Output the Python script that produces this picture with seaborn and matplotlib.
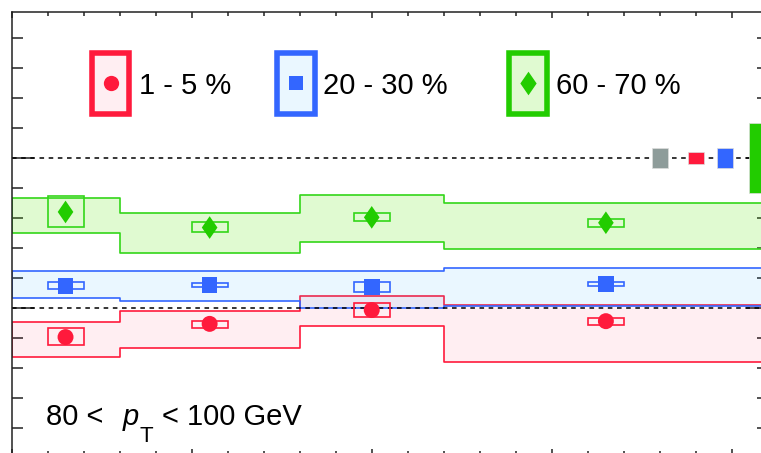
import numpy as np
import pandas as pd
import matplotlib
matplotlib.use("Agg")
import matplotlib.pyplot as plt
from matplotlib.patches import Rectangle
from matplotlib.ticker import MultipleLocator
from matplotlib.transforms import offset_copy
import seaborn as sns

sns.set_style("ticks")
plt.rcParams['font.family'] = ['Liberation Sans', 'DejaVu Sans']
plt.rcParams['text.color'] = 'black'

# |y| bins and centres
rap_edges = [0.0, 0.3, 0.8, 1.2, 2.1]
rap_centres = [0.15, 0.55, 1.0, 1.65]
cent_labels = ['1 - 5 %', '20 - 30 %', '60 - 70 %']

# R_CP values
rcp_c1 = [0.403, 0.447, 0.493, 0.456]
rcp_c2 = [0.574, 0.577, 0.571, 0.579]
rcp_c3 = [0.820, 0.768, 0.802, 0.784]

# shaded systematic bands (low / high per bin)
band_lo_c1 = [0.337, 0.367, 0.441, 0.319]
band_hi_c1 = [0.454, 0.489, 0.541, 0.510]
band_lo_c2 = [0.532, 0.523, 0.501, 0.508]
band_hi_c2 = [0.623, 0.623, 0.624, 0.632]
band_lo_c3 = [0.751, 0.682, 0.719, 0.696]
band_hi_c3 = [0.866, 0.818, 0.877, 0.849]

# open boxes around the points
box_lo_c1 = [0.378, 0.434, 0.471, 0.443]
box_hi_c1 = [0.433, 0.458, 0.516, 0.468]
box_lo_c2 = [0.562, 0.569, 0.552, 0.573]
box_hi_c2 = [0.586, 0.584, 0.586, 0.586]
box_lo_c3 = [0.771, 0.752, 0.791, 0.771]
box_hi_c3 = [0.873, 0.788, 0.816, 0.796]

# normalisation uncertainties at unity
norm_x = [1.80, 1.90, 1.98, 2.07]
norm_unc = [0.032, 0.020, 0.032, 0.118]
norm_colors = ['#8E9C9A', '#FF1A3C', '#3366FF', '#22CC00']

line_colors = ['#FF1A3C', '#3366FF', '#22CC00']
band_colors = ['#FF1A3C', '#3366FF', '#33D619']
fill_colors = [(1.0, 0.1, 0.3, 0.07), (0.2, 0.7, 1.0, 0.1), (0.4, 0.9, 0.1, 0.2)]
diamond = [(0, 1), (0.69, 0), (0, -1), (-0.69, 0), (0, 1)]

band_lo = [band_lo_c1, band_lo_c2, band_lo_c3]
band_hi = [band_hi_c1, band_hi_c2, band_hi_c3]
box_lo = [box_lo_c1, box_lo_c2, box_lo_c3]
box_hi = [box_hi_c1, box_hi_c2, box_hi_c3]

df = pd.DataFrame({
    "rap": rap_centres * 3,
    "rcp": rcp_c1 + rcp_c2 + rcp_c3,
    "cent": [c for c in cent_labels for _ in rap_centres],
})

fig = plt.figure(figsize=(7.61, 4.53), dpi=100)
ax = fig.add_axes([11.5/761, -2/453, 756.5/761, 443.5/453])

for i in range(3):
    lo = list(band_lo[i]) + [band_lo[i][-1]]
    hi = list(band_hi[i]) + [band_hi[i][-1]]
    ax.fill_between(rap_edges, lo, hi, step='post', facecolor=fill_colors[i],
                    edgecolor=band_colors[i], linewidth=1.2, zorder=1)
    ax.bar(rap_centres, np.array(box_hi[i]) - np.array(box_lo[i]), bottom=box_lo[i],
           width=0.1, fill=False, edgecolor=band_colors[i], linewidth=1.2, zorder=3)

ax.axhline(1.0, ls=(0, (3, 3)), lw=1.1, color='k', zorder=2)
ax.axhline(0.5, ls=(0, (3, 3)), lw=1.1, color='k', zorder=2)

ax.bar(norm_x, 2*np.array(norm_unc), bottom=1-np.array(norm_unc), width=0.045,
       color=norm_colors, edgecolor='#DDDDDD', linewidth=0.5, zorder=3)

sns.scatterplot(data=df, x="rap", y="rcp", hue="cent", style="cent", size="cent",
                palette=dict(zip(cent_labels, line_colors)),
                markers=dict(zip(cent_labels, ['o', 's', diamond])),
                sizes=dict(zip(cent_labels, [132, 128, 266])),
                linewidth=0, legend=False, zorder=4, ax=ax)

ax.set_xlim(0, 2.1)
ax.set_ylim(0.01, 1.488)
ax.set_xlabel("")
ax.set_ylabel("")
ax.xaxis.set_major_locator(MultipleLocator(0.5))
ax.xaxis.set_minor_locator(MultipleLocator(0.1))
ax.yaxis.set_major_locator(MultipleLocator(0.5))
ax.yaxis.set_minor_locator(MultipleLocator(0.1))
ax.tick_params(axis='both', which='both', direction='in', top=True, right=True,
               labelbottom=False, labelleft=False, width=1.1, color='#222222')
ax.tick_params(axis='y', which='major', length=15.8)
ax.tick_params(axis='y', which='minor', length=7.9)
ax.tick_params(axis='x', which='major', length=4.5)
ax.tick_params(axis='x', which='minor', length=2.7)
for sp in ax.spines.values():
    sp.set_linewidth(1.1)
    sp.set_color('#222222')

# legend boxes
leg_x = [0.1309, 0.3761, 0.6828]
leg_text_x = [0.1685, 0.4124, 0.7198]
leg_markers = ['o', 's', diamond]
leg_ms = [11, 10.5, 17]
for i in range(3):
    ax.add_patch(Rectangle((leg_x[i] - 0.0248, 0.7684), 0.0496, 0.1387,
                           transform=ax.transAxes, facecolor=fill_colors[i],
                           edgecolor=line_colors[i], linewidth=4, zorder=5))
    ax.plot([leg_x[i]], [0.8377], marker=leg_markers[i], ms=leg_ms[i], mew=0,
            color=line_colors[i], transform=ax.transAxes, zorder=6)
    ax.text(leg_text_x[i], 0.814, cent_labels[i], transform=ax.transAxes,
            fontsize=21, va='baseline', ha='left', color='black')

# pT range label, pieced together so the subscript sits low like the original
fig.canvas.draw()
renderer = fig.canvas.get_renderer()
base_y = 0.0676
t = ax.text(0.0456, base_y, "80 <", transform=ax.transAxes,
            fontsize=21, va='baseline', ha='left', color='black')
pieces = [("p", 21, 'italic', 19, 0), ("T", 16, 'normal', 1, -17),
          ("< 100 GeV", 21, 'normal', 9, 0)]
for txt, fs, st, gap, dy in pieces:
    bb = t.get_window_extent(renderer)
    x0 = ax.transAxes.inverted().transform((bb.x1 + gap, 0))[0]
    tr = offset_copy(ax.transAxes, fig=fig, x=0, y=dy * 0.72, units='points')
    t = ax.text(x0, base_y, txt, transform=tr, fontsize=fs, style=st,
                va='baseline', ha='left', color='black')

fig.savefig("out.png", dpi=100)
